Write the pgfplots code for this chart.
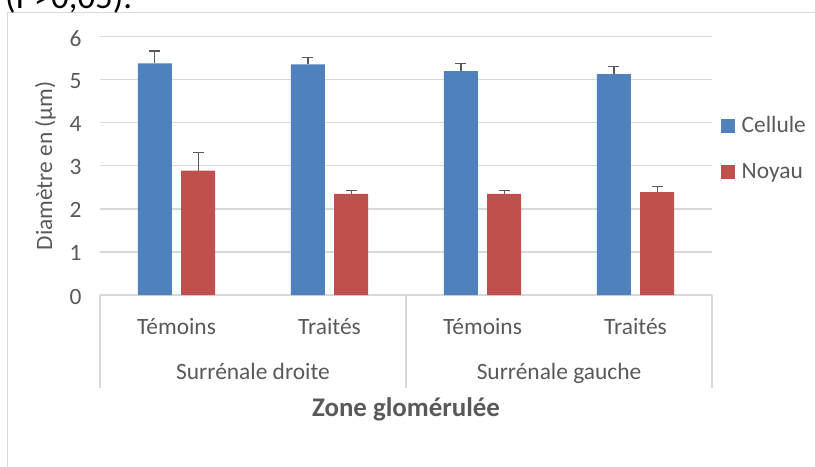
\documentclass[border=0pt]{standalone}
\usepackage{fontspec}
\setmainfont{Carlito}
\usepackage{pgfplots}
\pgfplotsset{compat=1.18}
\definecolor{cblue}{HTML}{4F81BD}
\definecolor{cred}{HTML}{C0504D}
\definecolor{txt}{HTML}{595959}
\definecolor{grd}{HTML}{D9D9D9}
\newcommand\cf{\fontsize{23.5}{28}\selectfont}

% mean and error (upper bar only)
\pgfplotstableread{
x  y     err
0  5.38  0.29
1  5.36  0.15
2  5.20  0.17
3  5.13  0.18
}\cellule
\pgfplotstableread{
x  y     err
0  2.89  0.42
1  2.35  0.07
2  2.35  0.08
3  2.39  0.13
}\noyau

\begin{document}
\begin{tikzpicture}
\begin{axis}[
    at={(0,0)}, anchor=south west,
    scale only axis,
    width=612bp, height=258.3bp,
    xmin=-0.5, xmax=3.5, ymin=0, ymax=6,
    ybar=9.3bp, bar width=34bp,
    clip=false,
    axis x line*=bottom, axis y line*=left,
    x axis line style={grd, line width=1.2bp, -},
    y axis line style={draw=none},
    major tick length=0pt,
    xtick={0,1,2,3},
    xticklabels={Témoins,Traités,Témoins,Traités},
    ytick={0,1,...,6},
    /pgf/number format/assume math mode=true,
    ymajorgrids,
    grid style={grd, line width=1.2bp},
    tick label style={font=\cf, text=txt},
    xticklabel style={anchor=base, yshift=-39bp},
    yticklabel style={anchor=east, xshift=-15bp, yshift=-1.5bp},
    ylabel={Diamètre en (µm)},
    ylabel style={at={(axis description cs:-0.0784,0.5)}, anchor=base,
        font=\cf, text=txt},
    xlabel={\bfseries Zone glomérulée},
    xlabel style={at={(axis description cs:0.5,-0.471)}, anchor=base,
        font=\fontsize{27}{32}\selectfont, text=txt},
    legend style={at={(axis description cs:1.0147,0.567)}, anchor=west,
        draw=none, fill=none, inner sep=0pt, outer sep=0pt,
        font=\cf, text=txt, row sep=26bp,
        nodes={inner sep=0pt, text height=17bp, text depth=3bp},
        /tikz/every odd column/.append style={column sep=6.7bp}},
    legend cell align=left,
    legend image code/.code={\fill[#1] (0bp,-7bp) rectangle (14bp,7bp);},
    error bars/error bar style={txt, line width=1.3bp},
    error bars/error mark options={txt, line width=1.3bp, mark size=5.5bp, rotate=90},
]
\addplot[fill=cblue, draw=none,
    error bars/.cd, y dir=plus, y explicit]
    table[x=x, y=y, y error=err] {\cellule};
\addplot[fill=cred, draw=none,
    error bars/.cd, y dir=plus, y explicit]
    table[x=x, y=y, y error=err] {\noyau};
\legend{Cellule, Noyau}

% category separators and group labels
\draw[grd, line width=1.2bp]
    (axis description cs:0,0) -- (axis description cs:0,-0.36)
    (axis description cs:0.5,0) -- (axis description cs:0.5,-0.36)
    (axis description cs:1,0) -- (axis description cs:1,-0.36);
\node[anchor=base, font=\cf, text=txt] at (axis description cs:0.25,-0.329) {Surrénale droite};
\node[anchor=base, font=\cf, text=txt] at (axis description cs:0.75,-0.329) {Surrénale gauche};
\end{axis}

% chart area border and the cut-off text above it
\draw[grd, line width=1bp] (-92bp,-200bp) -- (-92bp,282bp) -- (800bp,282bp);
\node[anchor=base west, inner sep=0pt, font=\fontsize{35}{40}\selectfont]
    at (-95bp,286bp) {(P>0,05).};

\pgfresetboundingbox
\path[use as bounding box] (-100bp,-172bp) rectangle (715bp,295bp);
\end{tikzpicture}
\end{document}
